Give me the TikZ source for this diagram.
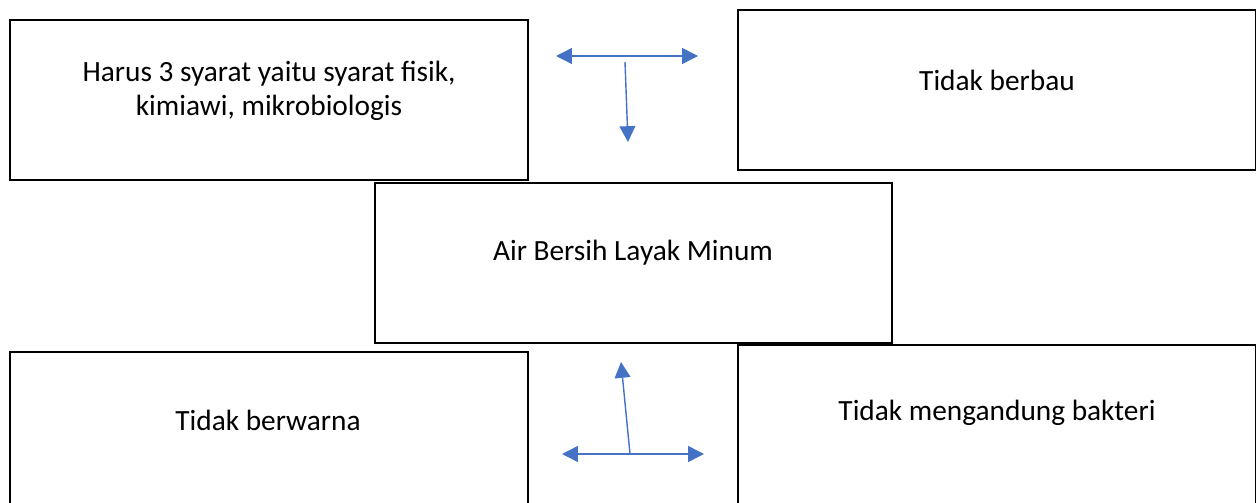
\documentclass[tikz,border=0pt]{standalone}
\usepackage{fontspec}
\setmainfont{Carlito}
\usetikzlibrary{arrows.meta,positioning}
\definecolor{arrowblue}{HTML}{4472C4}
\tikzset{
    box/.style={draw=black,line width=1.1pt,minimum width=10.36cm,minimum height=3.2cm,inner sep=0pt},
    txt/.style={align=center,font=\fontsize{16.7}{19.3}\selectfont},
    conn/.style={draw=arrowblue,line width=0.8pt,-{Triangle[length=9pt,width=9pt]}},
    biconn/.style={conn,{Triangle[length=9pt,width=9pt]}-{Triangle[length=9pt,width=9pt]}},
}
\begin{document}
\begin{tikzpicture}[x=0.02cm,y=-0.02cm]
    \useasboundingbox (0,0) rectangle (1256,503);
    \clip (0,0) rectangle (1256,503);
    % boxes
    \node[box] (syarat) at (269,100) {};
    \node[box] (bau) at (997,90) {};
    \node[box] (air) at (633.5,263) {};
    \node[box,minimum height=3.16cm] (warna) at (269,431) {};
    \node[box,minimum height=3.3cm] (bakteri) at (997,427.5) {};
    % texts
    \node[txt] (tsyarat) at (269,91) {Harus 3 syarat yaitu syarat fisik,\\kimiawi, mikrobiologis};
    \node[txt] (tbau) at (997,80) {Tidak berbau};
    \node[txt] (tair) at (633,253) {Air Bersih Layak Minum};
    \node[txt] (twarna) at (268,420) {Tidak berwarna};
    \node[txt] (tbakteri) at (997,413) {Tidak mengandung bakteri};
    %===========================================
    \coordinate (tl) at (556,56);  \coordinate (tr) at (698,56);
    \coordinate (ts) at (625,62);  \coordinate (te) at (628,142);
    \coordinate (bl) at (562,454); \coordinate (br) at (704,454);
    \coordinate (bs) at (630,454); \coordinate (be) at (621,362);
    \draw[biconn] (tl)--(tr);
    \draw[conn] (ts)--(te);
    \draw[biconn] (bl)--(br);
    \draw[conn] (bs)--(be);
\end{tikzpicture}
\end{document}
